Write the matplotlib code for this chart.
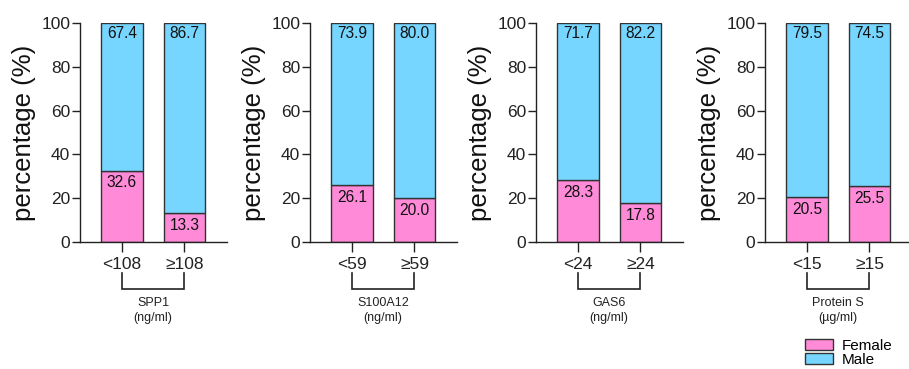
import matplotlib
matplotlib.use("Agg")
import matplotlib.pyplot as plt
from matplotlib.transforms import blended_transform_factory

plt.rcParams['font.family'] = ['Liberation Sans', 'DejaVu Sans']

# Percentages of female / male patients per biomarker group
markers = ["SPP1", "S100A12", "GAS6", "Protein S"]
units = ["(ng/ml)", "(ng/ml)", "(ng/ml)", "(µg/ml)"]
groups = [["<108", "≥108"], ["<59", "≥59"], ["<24", "≥24"], ["<15", "≥15"]]
female = [[32.6, 13.3], [26.1, 20.0], [28.3, 17.8], [20.5, 25.5]]
male = [[67.4, 86.7], [73.9, 80.0], [71.7, 82.2], [79.5, 74.5]]

PINK = "#FF8AD8"
BLUE = "#76D6FF"
EDGE = "#333333"

W, H = 909, 369
fig = plt.figure(figsize=(W / 100, H / 100), dpi=100)

ax_left_px = [80, 310, 536, 765]
ax_w_px = 147
y_top_px, y_bot_px = 23, 242

for i in range(4):
    ax = fig.add_axes([ax_left_px[i] / W, (H - y_bot_px) / H,
                       ax_w_px / W, (y_bot_px - y_top_px) / H])
    x = [0, 1]
    bw = 0.66
    b_f = ax.bar(x, female[i], width=bw, color=PINK, edgecolor=EDGE,
                 linewidth=1.0, label="Female", zorder=2)
    b_m = ax.bar(x, male[i], width=bw, bottom=female[i], color=BLUE,
                 edgecolor=EDGE, linewidth=1.0, label="Male", zorder=2)
    for j in range(2):
        ax.text(x[j], female[i][j] + male[i][j] - 4.6, f"{male[i][j]:.1f}",
                ha="center", va="center", fontsize=11.2, color="#111111")
        ax.text(x[j], female[i][j] - 5.6, f"{female[i][j]:.1f}",
                ha="center", va="center", fontsize=11.2, color="#111111")

    ax.set_xlim(-0.67, 1.68)
    ax.set_ylim(0, 100)
    ax.set_yticks([0, 20, 40, 60, 80, 100])
    ax.set_xticks(x)
    ax.set_xticklabels(groups[i])
    ax.tick_params(axis="y", length=6, width=1.0, pad=1, labelsize=12.5,
                   colors="#222222")
    ax.tick_params(axis="x", length=7.5, width=1.0, pad=3, labelsize=12.5,
                   colors="#222222")
    for s in ["top", "right"]:
        ax.spines[s].set_visible(False)
    for s in ["left", "bottom"]:
        ax.spines[s].set_linewidth(1.0)
        ax.spines[s].set_color("#222222")
    ax.set_ylabel("percentage (%)", fontsize=18.5, labelpad=4, color="#111111")

    # bracket grouping the two categories under the marker name
    tr = blended_transform_factory(ax.transData, ax.transAxes)
    yb0 = (y_bot_px - 273) / (y_bot_px - y_top_px)
    yb1 = (y_bot_px - 289) / (y_bot_px - y_top_px)
    ax.plot([0, 0, 1, 1], [yb0, yb1, yb1, yb0], transform=tr, color="#222222",
            linewidth=1.2, clip_on=False, solid_joinstyle="miter")
    yt0 = (y_bot_px - 303) / (y_bot_px - y_top_px)
    yt1 = (y_bot_px - 318) / (y_bot_px - y_top_px)
    ax.text(0.5, yt0, markers[i], transform=tr, ha="center", va="center",
            fontsize=9, color="#222222")
    ax.text(0.5, yt1, units[i], transform=tr, ha="center", va="center",
            fontsize=9, color="#222222")

fig.legend(handles=[b_f, b_m], labels=["Female", "Male"], loc="upper left",
           bbox_to_anchor=(805 / W, 1 - 339 / H), frameon=False, fontsize=11,
           handlelength=1.8, handleheight=0.7, handletextpad=0.6,
           labelspacing=0.0, borderpad=0, borderaxespad=0)

fig.savefig("out.png", dpi=100)
